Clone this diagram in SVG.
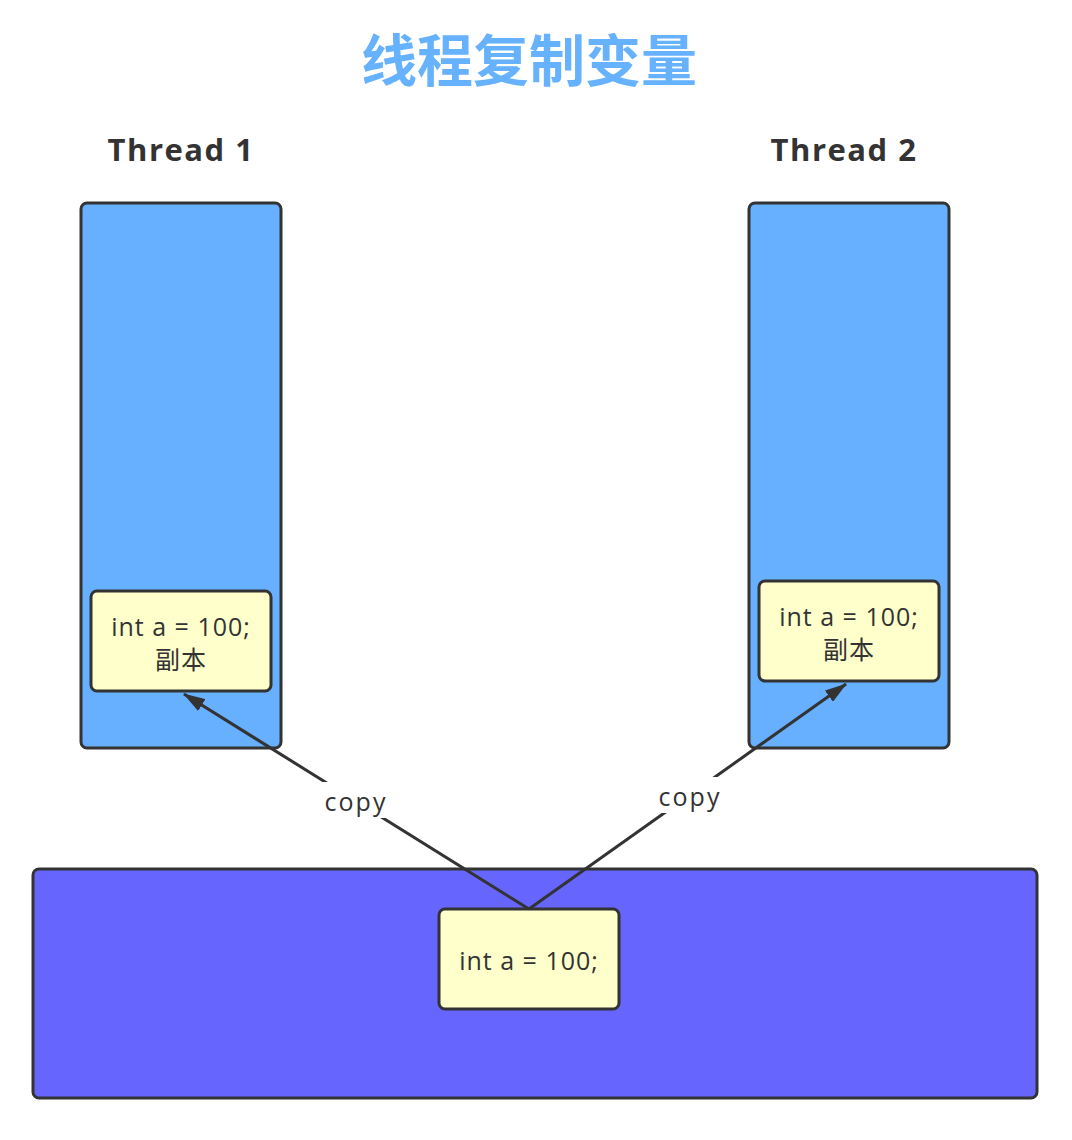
<svg xmlns="http://www.w3.org/2000/svg" width="1072" height="1140" viewBox="0 0 1072 1140">
<style>
.frame{stroke:#333;stroke-width:3}
.thread{fill:#66b0ff}
.mem{fill:#6666ff}
.var{fill:#ffffcc}
.t{font-family:"Open Sans","Noto Sans CJK SC",sans-serif;fill:#333;font-size:25px;letter-spacing:1px;text-anchor:middle}
.c{letter-spacing:2px}
.h{font-family:"Open Sans","Noto Sans CJK SC",sans-serif;fill:#333;font-size:31px;font-weight:bold;letter-spacing:1.5px;text-anchor:middle}
.title{font-family:"Noto Sans CJK SC",sans-serif;fill:#66b2ff;font-size:56px;font-weight:bold;text-anchor:middle}
.edge{stroke:#333;stroke-width:3;fill:none}
</style>
<defs>
<marker id="arr" viewBox="0 0 22 14" refX="21" refY="7" markerWidth="22" markerHeight="14" markerUnits="userSpaceOnUse" orient="auto">
<path d="M0,0 L22,7 L0,14 Z" fill="#333"/>
</marker>
</defs>
<text class="title" x="529" y="81">线程复制变量</text>
<g id="thread1">
<text class="h" x="181" y="161">Thread 1</text>
<rect class="frame thread" x="81" y="203" width="200" height="545" rx="6"/>
</g>
<g id="thread2">
<text class="h" x="844" y="161">Thread 2</text>
<rect class="frame thread" x="749" y="203" width="200" height="545" rx="6"/>
</g>
<g id="mainmem">
<rect class="frame mem" x="33" y="869" width="1004" height="229" rx="6"/>
</g>
<g id="copy1">
<rect class="frame var" x="91" y="591" width="180" height="100" rx="6"/>
<text class="t" x="181" y="636">int a = 100;</text>
<text class="t" x="181" y="669">副本</text>
</g>
<g id="copy2">
<rect class="frame var" x="759" y="581" width="180" height="100" rx="6"/>
<text class="t" x="849" y="626">int a = 100;</text>
<text class="t" x="849" y="659">副本</text>
</g>
<g id="orig">
<rect class="frame var" x="439" y="909" width="180" height="100" rx="6"/>
<text class="t" x="529" y="970">int a = 100;</text>
</g>
<g id="connectors">
<path class="edge" d="M529,909 L184,694" marker-end="url(#arr)"/>
<path class="edge" d="M529,909 L846,684" marker-end="url(#arr)"/>
<rect x="318" y="782" width="74" height="36" fill="#fff"/>
<text class="t c" x="356" y="811">copy</text>
<rect x="652" y="777" width="74" height="36" fill="#fff"/>
<text class="t c" x="690" y="806">copy</text>
</g>
</svg>
